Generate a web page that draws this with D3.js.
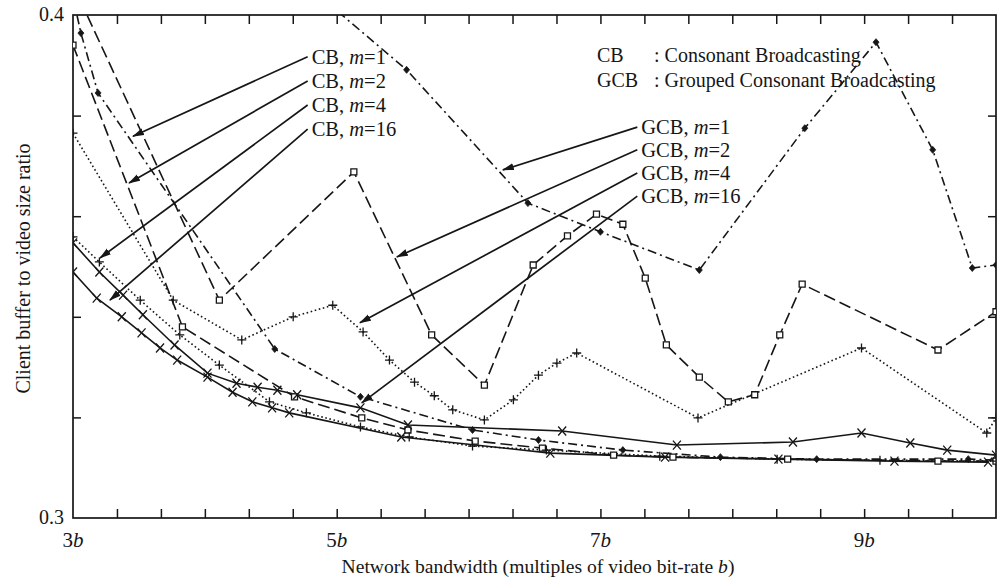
<!DOCTYPE html>
<html>
<head>
<meta charset="utf-8">
<script src="https://cdn.jsdelivr.net/npm/d3@7/dist/d3.min.js"></script>
<style>
  body { margin: 0; background: #fff; }
  svg { display: block; font-family: "Liberation Serif", "Times New Roman", serif; }
</style>
</head>
<body>
<svg width="999" height="578"></svg>
<script>
// data: [bandwidth in multiples of b, client buffer / video size]
const cbM1 = [[3.0, 0.4036], [3.06, 0.3964], [3.19, 0.3845], [4.53, 0.3336], [5.18, 0.3241], [6.03, 0.3175],
    [6.53, 0.3155], [7.17, 0.3135], [7.91, 0.3121], [8.64, 0.3117], [9.79, 0.3117], [10.0, 0.3115]]
const cbM2 = [[3.0, 0.3940], [3.83, 0.3380], [4.68, 0.3241], [5.19, 0.3199], [5.54, 0.3175], [6.05, 0.3153],
    [6.56, 0.3139], [7.10, 0.3125], [7.55, 0.3121], [8.42, 0.3117], [9.56, 0.3113], [10.0, 0.3113]]
const cbM4 = [[3.0, 0.3559], [3.20, 0.3509], [3.51, 0.3433], [3.81, 0.3364], [4.11, 0.3304], [4.49, 0.3231],
    [4.77, 0.3209], [5.18, 0.3181], [5.55, 0.3161], [6.03, 0.3143], [6.59, 0.3135], [7.45, 0.3123],
    [8.34, 0.3117], [9.12, 0.3115], [10.0, 0.3113]]
const cbM16 = [[3.0, 0.3489], [3.18, 0.3437], [3.37, 0.3400], [3.52, 0.3368], [3.66, 0.3338], [3.79, 0.3314],
    [4.02, 0.3280], [4.21, 0.3250], [4.36, 0.3231], [4.51, 0.3219], [4.64, 0.3209], [5.49, 0.3161],
    [6.62, 0.3129], [7.49, 0.3121], [8.35, 0.3117], [9.23, 0.3113], [9.94, 0.3111]]
const gcbM1 = [[4.68, 0.4080], [5.53, 0.3891], [6.45, 0.3626], [7.00, 0.3569], [7.75, 0.3493], [8.55, 0.3775],
    [9.09, 0.3946], [9.52, 0.3732], [9.82, 0.3497], [10.0, 0.3503]]
const gcbM2 = [[3.0, 0.4060], [4.11, 0.3433], [5.13, 0.3688], [5.72, 0.3364], [6.12, 0.3264], [6.49, 0.3503],
    [6.75, 0.3561], [6.97, 0.3604], [7.17, 0.3584], [7.34, 0.3477], [7.50, 0.3344], [7.75, 0.3280],
    [7.97, 0.3231], [8.17, 0.3245], [8.36, 0.3364], [8.53, 0.3465], [9.56, 0.3334], [10.0, 0.3410]]
const gcbM4 = [[3.0, 0.3765], [3.76, 0.3433], [4.28, 0.3354], [4.67, 0.3400], [4.97, 0.3423], [5.20, 0.3370],
    [5.40, 0.3314], [5.59, 0.3270], [5.74, 0.3243], [5.88, 0.3215], [6.12, 0.3195], [6.34, 0.3235],
    [6.53, 0.3284], [6.67, 0.3308], [6.82, 0.3328], [7.74, 0.3199], [8.98, 0.3338], [9.93, 0.3169], [10.0, 0.3199]]
const gcbM16 = [[3.0, 0.3547], [3.20, 0.3489], [3.38, 0.3443], [3.53, 0.3404], [3.77, 0.3344], [4.02, 0.3288],
    [4.24, 0.3268], [4.40, 0.3260], [4.55, 0.3254], [4.70, 0.3245], [5.18, 0.3219], [5.54, 0.3185],
    [6.71, 0.3173], [7.58, 0.3145], [8.46, 0.3151], [8.98, 0.3169], [9.35, 0.3149], [9.63, 0.3135], [10.0, 0.3125]]

const xTickLabels = ['3', '5', '7', '9']
const yTickLabels = ['0.3', '0.4']

// labels with arrows: tip = point on the curve, at = where the label sits
const cbLabels = [
    { m: '1', tip: [3.455, 0.3759], at: [4.81, 0.3917] },
    { m: '2', tip: [3.425, 0.3666], at: [4.81, 0.3869] },
    { m: '4', tip: [3.205, 0.3517], at: [4.81, 0.3821] },
    { m: '16', tip: [3.28, 0.3433], at: [4.81, 0.3773] }
]
const gcbLabels = [
    { m: '1', tip: [6.26, 0.3692], at: [7.31, 0.3777] },
    { m: '2', tip: [5.456, 0.3519], at: [7.31, 0.3732] },
    { m: '4', tip: [5.176, 0.3388], at: [7.31, 0.3686] },
    { m: '16', tip: [5.19, 0.3229], at: [7.31, 0.3640] }
]

const ink = '#161616'
const width = 999
const height = 578
const margin = { top: 15, right: 3, bottom: 60, left: 73 }

const x = d3.scaleLinear().domain([3, 10]).range([margin.left, width - margin.right])
const y = d3.scaleLinear().domain([0.3, 0.4]).range([height - margin.bottom, margin.top])

const svg = d3.select('svg')
    .attr('width', width)
    .attr('height', height)

const defs = svg.append('defs')
defs.append('clipPath').attr('id', 'plot')
    .append('rect')
    .attr('x', x(3)).attr('y', y(0.4))
    .attr('width', x(10) - x(3)).attr('height', y(0.3) - y(0.4))
defs.append('marker')
    .attr('id', 'pijl')
    .attr('viewBox', '0 0 12 8')
    .attr('refX', 11).attr('refY', 4)
    .attr('markerWidth', 12).attr('markerHeight', 8)
    .attr('markerUnits', 'userSpaceOnUse')
    .attr('orient', 'auto')
    .append('path')
    .attr('d', 'M0,0.5 L12,4 L0,7.5 Z')
    .attr('fill', ink)

// ticks, inward on all four sides
const xTicks = d3.range(1, 21).map(i => 3 + i / 3)
const yTicks = [0.32, 0.34, 0.36, 0.38]

svg.append('g')
    .attr('transform', `translate(0,${y(0.3)})`)
    .call(d3.axisBottom(x).tickValues(xTicks).tickSize(-9).tickFormat(''))
svg.append('g')
    .attr('transform', `translate(0,${y(0.4)})`)
    .call(d3.axisTop(x).tickValues(xTicks).tickSize(-9).tickFormat(''))
svg.append('g')
    .attr('transform', `translate(${x(3)},0)`)
    .call(d3.axisLeft(y).tickValues(yTicks).tickSize(-8).tickFormat(''))
svg.append('g')
    .attr('transform', `translate(${x(10)},0)`)
    .call(d3.axisRight(y).tickValues(yTicks).tickSize(-8).tickFormat(''))
svg.selectAll('.domain').remove()
svg.selectAll('.tick line').attr('stroke', ink).attr('stroke-width', 1.5)

svg.append('rect')
    .attr('x', x(3)).attr('y', y(0.4))
    .attr('width', x(10) - x(3)).attr('height', y(0.3) - y(0.4))
    .attr('fill', 'none').attr('stroke', ink).attr('stroke-width', 1.7)

// tick labels
const xl = svg.append('g').selectAll('text')
    .data(xTickLabels)
    .enter()
    .append('text')
    .attr('x', d => x(+d))
    .attr('y', 547)
    .attr('text-anchor', 'middle')
    .attr('font-size', 21)
    .attr('fill', ink)
xl.append('tspan').text(d => d)
xl.append('tspan').attr('font-style', 'italic').text('b')

svg.append('g').selectAll('text')
    .data(yTickLabels)
    .enter()
    .append('text')
    .attr('x', x(3) - 9)
    .attr('y', d => y(+d) + 6)
    .attr('text-anchor', 'end')
    .attr('font-size', 20)
    .attr('fill', ink)
    .text(d => d)

// axis titles
const xt = svg.append('text')
    .attr('x', 538)
    .attr('y', 573)
    .attr('text-anchor', 'middle')
    .attr('font-size', 19.6)
    .attr('fill', ink)
xt.append('tspan').text('Network bandwidth (multiples of video bit-rate ')
xt.append('tspan').attr('font-style', 'italic').text('b')
xt.append('tspan').text(')')

svg.append('text')
    .attr('transform', `translate(30,${(y(0.3) + y(0.4)) / 2 + 2}) rotate(-90)`)
    .attr('text-anchor', 'middle')
    .attr('font-size', 20)
    .attr('fill', ink)
    .text('Client buffer to video size ratio')

// curves
const series = [
    { data: cbM1, dash: '9,4,2,4', mark: 'diamond' },
    { data: cbM2, dash: '12,5', mark: 'square' },
    { data: cbM4, dash: '1.6,2.6', mark: 'plus' },
    { data: cbM16, dash: null, mark: 'cross' },
    { data: gcbM1, dash: '9,4,2,4', mark: 'diamond' },
    { data: gcbM2, dash: '12,5', mark: 'square' },
    { data: gcbM4, dash: '1.6,2.6', mark: 'plus' },
    { data: gcbM16, dash: null, mark: 'cross' }
]

const lijn = d3.line()
    .x(d => x(d[0]))
    .y(d => y(d[1]))

const plot = svg.append('g').attr('clip-path', 'url(#plot)')

plot.selectAll('path.curve')
    .data(series)
    .enter()
    .append('path')
    .attr('class', 'curve')
    .attr('d', d => lijn(d.data))
    .attr('fill', 'none')
    .attr('stroke', ink)
    .attr('stroke-width', 1.6)
    .attr('stroke-dasharray', d => d.dash)

const vormen = {
    diamond: 'M0,-3.5L3,0L0,3.5L-3,0Z',
    square: 'M-3,-3H3V3H-3Z',
    plus: 'M-4.5,0H4.5M0,-4.5V4.5',
    cross: 'M-4,-4.5L4,4.5M-4,4.5L4,-4.5'
}

series.forEach(s => {
    plot.append('g').selectAll('path')
        .data(s.data)
        .enter()
        .append('path')
        .attr('transform', d => `translate(${x(d[0])},${y(d[1])})`)
        .attr('d', vormen[s.mark])
        .attr('fill', s.mark === 'diamond' ? ink : (s.mark === 'square' ? '#fff' : 'none'))
        .attr('stroke', ink)
        .attr('stroke-width', s.mark === 'diamond' ? 0.8 : 1.3)
})

// labels + arrows
function tekenLabels(lijst, prefix) {
    const g = svg.append('g')
    g.selectAll('line')
        .data(lijst)
        .enter()
        .append('line')
        .attr('x1', d => x(d.at[0]) - 4)
        .attr('y1', d => y(d.at[1]))
        .attr('x2', d => x(d.tip[0]))
        .attr('y2', d => y(d.tip[1]))
        .attr('stroke', ink)
        .attr('stroke-width', 1.7)
        .attr('marker-end', 'url(#pijl)')

    const t = g.selectAll('text')
        .data(lijst)
        .enter()
        .append('text')
        .attr('x', d => x(d.at[0]))
        .attr('y', d => y(d.at[1]) + 7)
        .attr('font-size', 20.5)
        .attr('fill', ink)
    t.append('tspan').text(prefix + ', ')
    t.append('tspan').attr('font-style', 'italic').text('m')
    t.append('tspan').text(d => '=' + d.m)
}

tekenLabels(cbLabels, 'CB')
tekenLabels(gcbLabels, 'GCB')

// abbreviations
const afk = [['CB', 'Consonant Broadcasting'], ['GCB', 'Grouped Consonant Broadcasting']]
const ag = svg.append('g')
afk.forEach((a, i) => {
    const yy = 62 + i * 24.5
    ag.append('text').attr('x', 597).attr('y', yy).attr('font-size', 20).attr('fill', ink).text(a[0])
    ag.append('text').attr('x', 654).attr('y', yy).attr('font-size', 20).attr('fill', ink).text(': ' + a[1])
})
</script>
</body>
</html>
